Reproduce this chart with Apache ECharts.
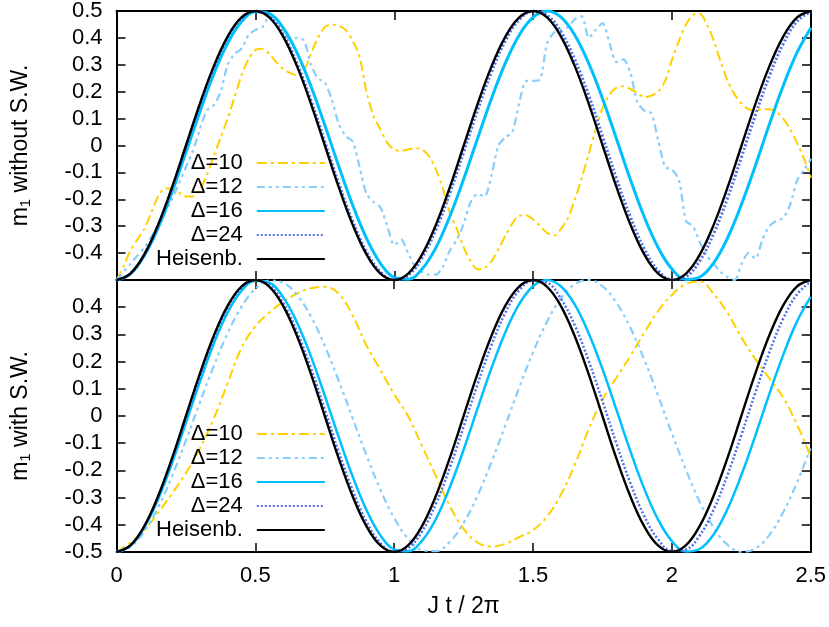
<!DOCTYPE html>
<html>
<head>
<meta charset="utf-8">
<script src="https://cdn.jsdelivr.net/npm/echarts@6/dist/echarts.min.js"></script>
<style>
  html, body { margin: 0; padding: 0; background: #fff; }
  #chart { width: 829px; height: 627px; }
</style>
</head>
<body>
<div id="chart"></div>
<script>
// sample positions (J t / 2pi)
const xCoarse = [0,0.05,0.1,0.15,0.2,0.25,0.3,0.35,0.4,0.45,0.5,0.55,0.6,0.65,0.7,0.75,0.8,0.85,0.9,0.95,
  1,1.05,1.1,1.15,1.2,1.25,1.3,1.35,1.4,1.45,1.5,1.55,1.6,1.65,1.7,1.75,1.8,1.85,1.9,1.95,
  2,2.05,2.1,2.15,2.2,2.25,2.3,2.35,2.4,2.45,2.5];
const xFine = [0,0.025,0.05,0.075,0.1,0.125,0.15,0.175,0.2,0.225,
  0.25,0.275,0.3,0.325,0.35,0.375,0.4,0.425,0.45,0.475,
  0.5,0.525,0.55,0.575,0.6,0.625,0.65,0.675,0.7,0.725,
  0.75,0.775,0.8,0.825,0.85,0.875,0.9,0.925,0.95,0.975,
  1,1.025,1.05,1.075,1.1,1.125,1.15,1.175,1.2,1.225,
  1.25,1.275,1.3,1.325,1.35,1.375,1.4,1.425,1.45,1.475,
  1.5,1.525,1.55,1.575,1.6,1.625,1.65,1.675,1.7,1.725,
  1.75,1.775,1.8,1.825,1.85,1.875,1.9,1.925,1.95,1.975,
  2,2.025,2.05,2.075,2.1,2.125,2.15,2.175,2.2,2.225,
  2.25,2.275,2.3,2.325,2.35,2.375,2.4,2.425,2.45,2.475,
  2.5];

const seriesNames = ['Δ=10', 'Δ=12', 'Δ=16', 'Δ=24', 'Heisenb.'];

// top panel: m1 without S.W.
const topD10 = [-0.50,-0.45,-0.39,-0.35,-0.31,-0.25,-0.19,-0.16,-0.16,-0.175,
  -0.19,-0.19,-0.165,-0.11,-0.04,0.03,0.10,0.18,0.26,0.32,
  0.355,0.36,0.34,0.31,0.285,0.27,0.26,0.28,0.34,0.40,
  0.44,0.45,0.445,0.43,0.39,0.33,0.20,0.11,0.06,0.01,
  -0.015,-0.02,-0.015,-0.01,-0.015,-0.04,-0.09,-0.16,-0.25,-0.31,
  -0.38,-0.43,-0.46,-0.455,-0.43,-0.385,-0.335,-0.29,-0.26,-0.26,
  -0.275,-0.30,-0.325,-0.335,-0.31,-0.27,-0.20,-0.12,-0.03,0.06,
  0.14,0.19,0.215,0.22,0.21,0.195,0.18,0.185,0.20,0.24,
  0.32,0.39,0.45,0.485,0.49,0.45,0.39,0.31,0.24,0.19,
  0.155,0.135,0.13,0.135,0.135,0.125,0.10,0.06,0.01,-0.05,
  -0.12];
const topD12 = [-0.50,-0.47,-0.44,-0.41,-0.38,-0.34,-0.30,-0.25,-0.20,-0.14,
  -0.08,-0.02,0.06,0.13,0.15,0.20,0.30,0.34,0.36,0.41,
  0.43,0.44,0.48,0.47,0.43,0.39,0.40,0.39,0.30,0.25,
  0.235,0.17,0.08,0.035,0.015,-0.08,-0.18,-0.21,-0.23,-0.30,
  -0.37,-0.35,-0.40,-0.45,-0.47,-0.48,-0.48,-0.45,-0.39,-0.35,
  -0.29,-0.21,-0.18,-0.19,-0.11,0.0,0.03,0.05,0.16,0.24,
  0.24,0.245,0.38,0.42,0.43,0.44,0.47,0.48,0.40,0.43,
  0.455,0.38,0.31,0.32,0.27,0.16,0.13,0.12,0.02,-0.08,
  -0.09,-0.13,-0.28,-0.30,-0.36,-0.41,-0.44,-0.47,-0.49,-0.50,
  -0.44,-0.40,-0.42,-0.35,-0.30,-0.28,-0.27,-0.22,-0.13,-0.09,
  -0.05];
const topD16 = [-0.5,-0.477,-0.410,-0.306,-0.173,-0.025,0.125,0.265,0.380,0.460,0.497,
  0.490,0.437,0.344,0.220,0.075,-0.077,-0.221,-0.345,-0.438,-0.490,
  -0.497,-0.459,-0.379,-0.263,-0.124,0.027,0.175,0.307,0.411,0.477,
  0.5,0.477,0.410,0.305,0.173,0.024,-0.127,-0.266,-0.380,-0.460,
  -0.498,-0.489,-0.436,-0.343,-0.218,-0.074,0.078,0.222,0.346,0.438];
const topD24 = [-0.5,-0.476,-0.406,-0.296,-0.159,-0.005,0.150,0.289,0.401,0.473,0.5,
  0.479,0.412,0.304,0.168,0.014,-0.141,-0.281,-0.395,-0.470,-0.5,
  -0.482,-0.417,-0.312,-0.177,-0.024,0.132,0.273,0.390,0.468,0.5,
  0.485,0.423,0.319,0.186,0.033,-0.123,-0.266,-0.384,-0.465,-0.499,
  -0.488,-0.428,-0.327,-0.194,-0.042,0.114,0.258,0.378,0.462,0.498];
const heisenb = [-0.5,-0.476,-0.405,-0.294,-0.155,0,0.155,0.294,0.405,0.476,0.5,
  0.476,0.405,0.294,0.155,0,-0.155,-0.294,-0.405,-0.476,-0.5,
  -0.476,-0.405,-0.294,-0.155,0,0.155,0.294,0.405,0.476,0.5,
  0.476,0.405,0.294,0.155,0,-0.155,-0.294,-0.405,-0.476,-0.5,
  -0.476,-0.405,-0.294,-0.155,0,0.155,0.294,0.405,0.476,0.5];

// bottom panel: m1 with S.W.
const botD10 = [-0.5,-0.465,-0.42,-0.355,-0.285,-0.21,-0.12,-0.01,0.12,0.25,0.33,
  0.38,0.42,0.45,0.47,0.475,0.45,0.37,0.26,0.17,0.08,
  0.0,-0.11,-0.22,-0.33,-0.415,-0.465,-0.48,-0.47,-0.445,-0.42,
  -0.37,-0.29,-0.18,-0.05,0.06,0.14,0.22,0.305,0.385,0.445,
  0.485,0.495,0.45,0.38,0.29,0.21,0.14,0.07,-0.03,-0.15];
const botD12 = [-0.5,-0.481,-0.425,-0.336,-0.221,-0.090,0.049,0.183,0.304,0.401,0.468,
  0.498,0.490,0.445,0.366,0.258,0.130,-0.007,-0.144,-0.270,-0.375,
  -0.451,-0.493,-0.497,-0.463,-0.393,-0.293,-0.170,-0.035,0.104,0.234,
  0.346,0.432,0.484,0.500,0.477,0.417,0.325,0.209,0.076,-0.063,
  -0.196,-0.315,-0.410,-0.473,-0.499,-0.488,-0.439,-0.356,-0.246,-0.117];
const botD16 = [-0.5,-0.477,-0.410,-0.306,-0.173,-0.025,0.125,0.265,0.380,0.460,0.497,
  0.490,0.437,0.344,0.220,0.075,-0.077,-0.221,-0.345,-0.438,-0.490,
  -0.497,-0.459,-0.379,-0.263,-0.124,0.027,0.175,0.307,0.411,0.477,
  0.5,0.477,0.410,0.305,0.173,0.024,-0.127,-0.266,-0.380,-0.460,
  -0.498,-0.489,-0.436,-0.343,-0.218,-0.074,0.078,0.222,0.346,0.438];
const botD24 = [-0.5,-0.476,-0.407,-0.298,-0.161,-0.008,0.146,0.285,0.398,0.472,0.5,
  0.481,0.416,0.310,0.176,0.024,-0.131,-0.272,-0.388,-0.467,-0.499,
  -0.486,-0.425,-0.323,-0.191,-0.039,0.116,0.260,0.379,0.462,0.498,
  0.491,0.432,0.334,0.204,0.055,-0.100,-0.245,-0.367,-0.453,-0.496,
  -0.491,-0.440,-0.345,-0.218,-0.070,0.084,0.231,0.356,0.446,0.494];

const yTicks = { min: -0.5, max: 0.5, interval: 0.1 };

const FONT = 'Liberation Sans';
const styles = {
  'Δ=10': { color: '#ffd000', width: 2, type: [10, 4, 3, 4] },
  'Δ=12': { color: '#87cefa', width: 2.2, type: [8, 4, 3, 4, 3, 4] },
  'Δ=16': { color: '#00bfff', width: 2.5, type: 'solid' },
  'Δ=24': { color: '#4f6ff0', width: 2.5, type: [2, 2] },
  'Heisenb.': { color: '#000000', width: 2.4, type: 'solid' }
};

function pairs(xs, ys) {
  return xs.map((x, i) => [x, ys[i]]);
}

function line(name, xs, ys, panel, smooth, width) {
  const s = styles[name];
  return {
    name: name,
    type: 'line',
    xAxisIndex: panel * 2,
    yAxisIndex: panel * 2,
    data: pairs(xs, ys),
    showSymbol: false,
    symbol: 'none',
    smooth: smooth,
    color: s.color,
    lineStyle: { color: s.color, width: width || s.width, type: s.type },
    clip: true,
    z: 2
  };
}

const axisLine = { show: true, onZero: false, lineStyle: { color: '#000', width: 2 } };
const axisTick = { show: true, inside: true, length: 9, lineStyle: { color: '#000', width: 1.5 } };
const labelStyle = { color: '#000', fontFamily: FONT, fontSize: 22 };
const fmt = (v) => String(Number(v.toFixed(1)));

function xAx(grid, pos, labels) {
  const a = {
    gridIndex: grid, type: 'value', position: pos,
    min: 0, max: 2.5, interval: 0.5,
    axisLine: axisLine, axisTick: axisTick,
    splitLine: { show: false },
    axisLabel: labels ? Object.assign({ margin: 13, formatter: (v) => String(v) }, labelStyle) : { show: false }
  };
  if (labels) {
    a.name = 'J t / 2π';
    a.nameLocation = 'middle';
    a.nameGap = 43;
    a.nameTextStyle = { color: '#000', fontFamily: FONT, fontSize: 23 };
  }
  return a;
}

function yAx(grid, pos, labels, title, hideMin) {
  const a = {
    gridIndex: grid, type: 'value', position: pos,
    min: yTicks.min, max: yTicks.max, interval: yTicks.interval,
    axisLine: axisLine, axisTick: axisTick,
    splitLine: { show: false },
    axisLabel: labels ? Object.assign({
      margin: 14, formatter: fmt,
      showMinLabel: !hideMin, showMaxLabel: hideMin
    }, labelStyle) : { show: false }
  };
  if (title) {
    a.name = '{m|m}{s|1}{m| ' + title + '}';
    a.nameLocation = 'middle';
    a.nameGap = 83;
    a.nameTextStyle = {
      color: '#000', fontFamily: FONT, fontSize: 23,
      rich: {
        m: { fontFamily: FONT, fontSize: 23, color: '#000', lineHeight: 26 },
        s: { fontFamily: FONT, fontSize: 15, color: '#000', lineHeight: 26, padding: [10, 0, 0, 0] }
      }
    };
  }
  return a;
}

function legend(top) {
  return {
    data: seriesNames,
    orient: 'vertical',
    align: 'right',
    left: 156,
    top: top,
    padding: 0,
    itemWidth: 68,
    itemHeight: 14,
    itemGap: 2,
    selectedMode: false,
    itemStyle: { opacity: 0 },
    textStyle: { color: '#000', fontFamily: FONT, fontSize: 22, lineHeight: 22, padding: [0, 9, 0, 0] }
  };
}

const chart = echarts.init(document.getElementById('chart'), null, { renderer: 'canvas' });

const option = {
  animation: false,
  backgroundColor: '#fff',
  grid: [
    { left: 115, width: 696, top: 8, height: 272 },
    { left: 115, width: 696, top: 280, height: 272 }
  ],
  xAxis: [
    xAx(0, 'bottom', false),
    xAx(0, 'top', false),
    xAx(1, 'bottom', true),
    xAx(1, 'top', false)
  ],
  yAxis: [
    yAx(0, 'left', true, 'without S.W.', true),
    yAx(0, 'right', false),
    yAx(1, 'left', true, 'with S.W.', false),
    yAx(1, 'right', false)
  ],
  legend: [legend(152), legend(423)],
  series: [
    line('Δ=10', xFine, topD10, 0, 0.3),
    line('Δ=12', xFine, topD12, 0, 0.25),
    line('Δ=16', xCoarse, topD16, 0, 0.4, 3),
    line('Δ=24', xCoarse, topD24, 0, 0.4, 3),
    line('Heisenb.', xCoarse, heisenb, 0, 0.4),
    line('Δ=10', xCoarse, botD10, 1, 0.4),
    line('Δ=12', xCoarse, botD12, 1, 0.4),
    line('Δ=16', xCoarse, botD16, 1, 0.4),
    line('Δ=24', xCoarse, botD24, 1, 0.4),
    line('Heisenb.', xCoarse, heisenb, 1, 0.4)
  ]
};

chart.setOption(option);
</script>
</body>
</html>
